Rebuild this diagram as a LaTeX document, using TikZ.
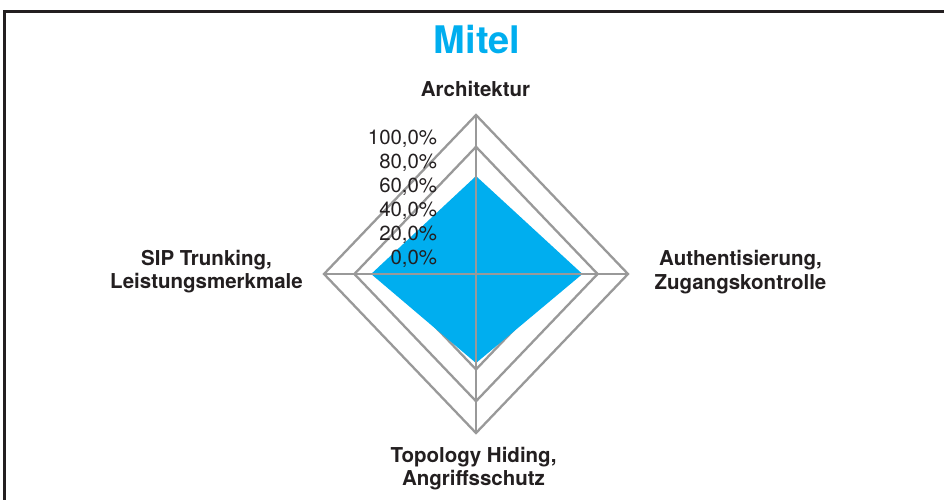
\documentclass[tikz,border=0pt]{standalone}
\usepackage{fontspec}
\setmainfont{TeX Gyre Heros}
\definecolor{mblue}{HTML}{00AEEF}
\definecolor{mgray}{HTML}{999999}
\definecolor{mtext}{HTML}{231F20}
\tikzset{
  ringline/.style={draw=mgray, line width=2.3pt, line join=miter},
  axisline/.style={draw=mgray, line width=2.3pt},
  framebox/.style={draw=mtext, line width=2.6pt},
  catlabel/.style={font=\fontsize{20.5}{23.5}\selectfont\bfseries, text=mtext, align=center, inner sep=0pt},
  ticklabel/.style={font=\fontsize{20.4}{24}\selectfont, text=mtext, inner sep=0pt, anchor=base east},
  titlelabel/.style={font=\fontsize{38}{44}\selectfont\bfseries, text=mblue, inner sep=0pt, anchor=base}
}
\begin{document}
\begin{tikzpicture}[x=1pt,y=-1pt]
\useasboundingbox (0,0) rectangle (944,500);
\fill[white] (0,0) rectangle (944,500);
\coordinate (fbl) at (4.5,501);
\coordinate (ftr) at (945,11.3);
\draw[framebox] (fbl) |- (ftr);
\node[titlelabel] (title) at (477,54) {Mitel};
\begin{scope}[shift={(476pt,-274pt)}]
\begin{scope}[x=152pt,y=159pt]
\coordinate (C) at (0,0);
\foreach \r in {0.2,0.4,0.6,0.8,1.0}{
  \draw[ringline] (0,\r) -- (\r,0) -- (0,-\r) -- (-\r,0) -- cycle;
}
\coordinate (T) at (0,1);
\coordinate (R) at (1,0);
\coordinate (B) at (0,-1);
\coordinate (L) at (-1,0);
\fill[mblue] (0,0.616) -- (0.70,0) -- (0,-0.56) -- (-0.69,0) -- cycle;
\draw[axisline] (C) -- (T);
\draw[axisline] (C) -- (R);
\draw[axisline] (C) -- (B);
\draw[axisline] (C) -- (L);
\end{scope}
\end{scope}
\node[ticklabel] (t100) at (437.3,144.3) {100,0\%};
\node[ticklabel] (t80) at (437.3,168.3) {80,0\%};
\node[ticklabel] (t60) at (437.3,192.3) {60,0\%};
\node[ticklabel] (t40) at (437.3,216.3) {40,0\%};
\node[ticklabel] (t20) at (437.3,240.3) {20,0\%};
\node[ticklabel] (t0) at (437.3,264.3) {0,0\%};
\node[catlabel, anchor=base] (ltop) at (475.5,97) {Architektur};
\node[catlabel, anchor=base] (lright) at (740.5,289) {Authentisierung,\\Zugangskontrolle};
\node[catlabel, anchor=base] (lleft) at (206.5,288.5) {SIP Trunking,\\Leistungsmerkmale};
\node[catlabel, anchor=base] (lbottom) at (473.5,485.5) {Topology Hiding,\\Angriffsschutz};
\end{tikzpicture}
\end{document}
